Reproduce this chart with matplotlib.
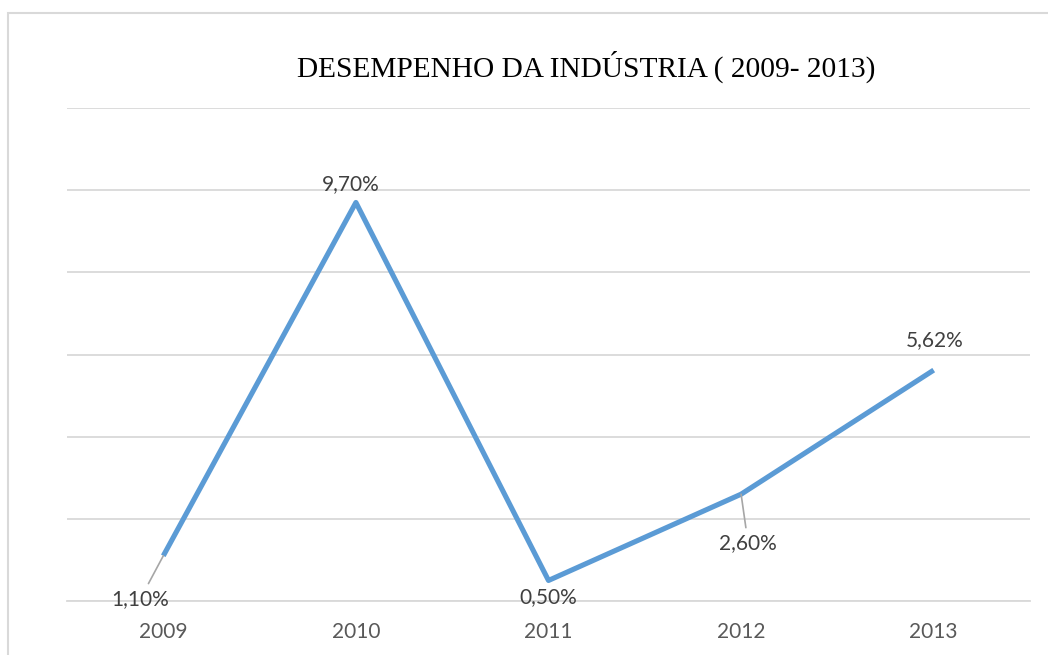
import matplotlib

matplotlib.use("Agg")
import matplotlib.pyplot as plt
from matplotlib.patches import Rectangle

YEARS = ["2009", "2010", "2011", "2012", "2013"]
VALUES = [1.10, 9.70, 0.50, 2.60, 5.62]
LABELS = ["1,10%", "9,70%", "0,50%", "2,60%", "5,62%"]

LINE = "#5B9BD5"
GRID = "#D9D9D9"
TICK = "#595959"
LBL = "#404040"

fig = plt.figure(figsize=(10.48, 6.55), dpi=100)
fig.patch.set_facecolor("white")
fig.patches.append(Rectangle((8 / 1048, -0.1), 1.2, 0.1 + 1 - 13 / 655,
                             transform=fig.transFigure, fill=False,
                             edgecolor=GRID, lw=1.5))

ax = fig.add_axes([67 / 1048, 1 - 601 / 655, 963 / 1048, 493 / 655])
xs = range(len(YEARS))
ax.plot(xs, VALUES, color=LINE, lw=3.7, solid_capstyle="butt", zorder=3)

ax.set_xlim(-0.5, len(YEARS) - 0.5)
ax.set_ylim(0, 12)
ax.set_yticks(range(0, 13, 2))
ax.set_yticklabels([])
ax.set_xticks(list(xs))
ax.set_xticklabels(YEARS, fontsize=15, color=TICK, family="Lato")
ax.tick_params(axis="y", length=0)
ax.tick_params(axis="x", length=0, pad=15)
ax.grid(axis="y", color=GRID, lw=1.3)
for s in ("top", "right", "left"):
    ax.spines[s].set_visible(False)
ax.spines["bottom"].set_color(GRID)
ax.spines["bottom"].set_linewidth(1.3)
ax.set_axisbelow(True)

# label offsets in pixels (dx, dy), leader line where Excel drew one
offsets = [(-23, -43, True), (-5, 18, False), (0, -17, False),
           (7, -49, True), (1, 30, False)]
for x, v, lab, (dx, dy, lead) in zip(xs, VALUES, LABELS, offsets):
    kw = {}
    if lead:
        kw["arrowprops"] = dict(arrowstyle="-", color="#A6A6A6", lw=1.2,
                                shrinkA=2, shrinkB=0)
    ax.annotate(lab, (x, v), xytext=(dx, dy), textcoords="offset pixels",
                ha="center", va="center", fontsize=15, color=LBL,
                family="Lato", **kw)

fig.text(586 / 1048, 1 - 67 / 655, "DESEMPENHO DA INDÚSTRIA ( 2009- 2013)",
         ha="center", va="center", fontsize=21.2, family="Liberation Serif",
         color="black")

fig.savefig("out.png", dpi=100)
